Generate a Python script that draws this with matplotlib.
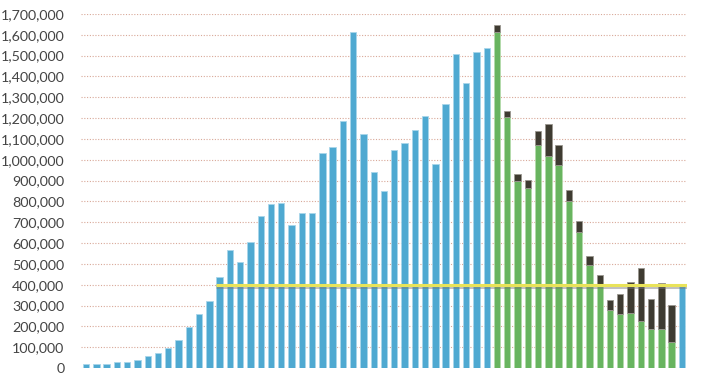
import matplotlib
matplotlib.use("Agg")
import matplotlib.pyplot as plt
import matplotlib.patheffects as pe
from matplotlib.ticker import FuncFormatter, MultipleLocator
import numpy as np

# Blue series (actual), indices 0..39 and last bar 58
blue_values = [20000, 20000, 20000, 27000, 30000, 37000, 59000, 72000, 96000, 135000,
               199000, 261000, 320000, 439000, 568000, 510000, 605000, 731000, 788000, 794000,
               688000, 746000, 743000, 1031000, 1059000, 1184000, 1614000, 1122000, 942000, 850000,
               1049000, 1079000, 1145000, 1211000, 979000, 1270000, 1506000, 1371000, 1517000, 1539000]
# Green series (base) for indices 40..57
green_values = [1614000, 1203000, 899000, 864000, 1071000, 1017000, 974000, 801000, 652000, 493000,
                393000, 277000, 261000, 266000, 226000, 186000, 188000, 126000]
# Dark stacked top (totals) for indices 40..57
total_values = [1648000, 1235000, 931000, 903000, 1140000, 1173000, 1073000, 856000, 705000, 540000,
                447000, 325000, 353000, 412000, 478000, 331000, 406000, 301000]
last_blue = [395000]
threshold = 400000

BLUE = "#4fa9d1"
GREEN = "#68b45f"
DARK = "#3e3b31"

fig = plt.figure(figsize=(7.1, 3.75), dpi=100)
ax = fig.add_axes([81/710, 1-368/375, (687-81)/710, (368-14)/375])

n_blue = len(blue_values)
n_green = len(green_values)
w = 0.62
xb = np.arange(n_blue)
xg = np.arange(n_blue, n_blue + n_green)
xl = np.array([n_blue + n_green])

dark_values = np.array(total_values) - np.array(green_values)

ax.bar(xb, blue_values, width=w, color=BLUE, edgecolor="#a9d6ea", linewidth=0.6, zorder=3)
ax.bar(xg, green_values, width=w, color=GREEN, edgecolor="#b3dbab", linewidth=0.6, zorder=3)
ax.bar(xg, dark_values, bottom=green_values, width=w, color=DARK, edgecolor="#9a978f", linewidth=0.6, zorder=3)
ax.bar(xl, last_blue, width=w, color=BLUE, edgecolor="#a9d6ea", linewidth=0.6, zorder=3)

ax.hlines(threshold, 12.65, n_blue + n_green + 0.5, colors="#e9e35a", linewidth=2.2, zorder=5,
          path_effects=[pe.SimpleLineShadow(offset=(0, -1.5), shadow_color="#777777", alpha=0.45),
                        pe.Normal()])

ax.set_xlim(-0.5, n_blue + n_green + 0.5)
ax.set_ylim(0, 1700000)
ax.yaxis.set_major_locator(MultipleLocator(100000))
ax.yaxis.set_major_formatter(FuncFormatter(lambda v, p: f"{int(v):,}"))
ax.grid(axis="y", color="#d8a898", linestyle=(0, (1, 1.5)), linewidth=0.8, zorder=0)
ax.set_axisbelow(True)
for s in ax.spines.values():
    s.set_visible(False)
ax.set_xticks([])
ax.tick_params(axis="y", length=0, pad=12, labelsize=10.3, labelcolor="#444444")
for lbl in ax.get_yticklabels():
    lbl.set_fontfamily("Lato")
    lbl.set_verticalalignment("center_baseline")

fig.savefig("out.png", dpi=100)
